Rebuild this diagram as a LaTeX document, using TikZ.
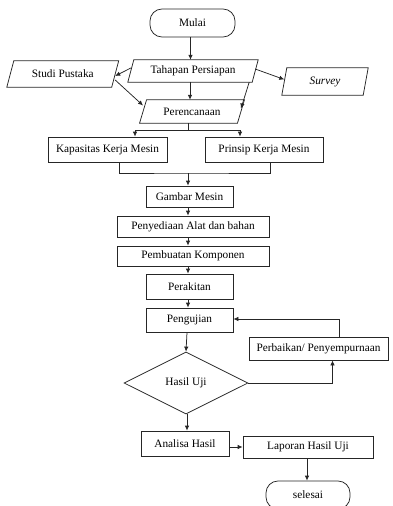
\documentclass[tikz,border=0pt]{standalone}
\usepackage{fontspec}
\setmainfont{Liberation Serif}
\usetikzlibrary{arrows.meta,shapes.geometric}
\newcommand\paral[2]{\draw[ln] ([xshift=#2]#1.north west) -- ([xshift=#2]#1.north east) -- ([xshift=-#2]#1.south east) -- ([xshift=-#2]#1.south west) -- cycle;}
\begin{document}
\begin{tikzpicture}[x=1pt,y=-1pt,
  ln/.style={draw=black!85, line width=0.75pt},
  txt/.style={font=\fontsize{11.3}{13}\selectfont, inner sep=0pt, text=black},
  rbox/.style={txt, ln, rectangle},
  term/.style={txt, ln, rectangle, rounded corners=12pt},
  para/.style={txt, rectangle},
  dia/.style={txt, ln, diamond, aspect=2},
  arr/.style={ln, -{Latex[length=5pt,width=4.5pt]}}
]
\useasboundingbox (0,0) rectangle (392,506);

% nodes
\node[term, minimum width=85pt, minimum height=28pt] (mulai) at (192.5,23) {Mulai};
\node[para, minimum width=124pt, minimum height=22pt] (tp) at (193,71) {Tahapan Persiapan};
\node[para, minimum width=104.5pt, minimum height=26pt] (sp) at (62.75,74) {Studi Pustaka};
\node[para, minimum width=81pt, minimum height=27pt] (sv) at (325,81.5) {\itshape Survey};
\node[para, minimum width=97.5pt, minimum height=23pt] (pr) at (192,111.5) {Perencanaan};
\paral{tp}{3pt}
\paral{sp}{3.5pt}
\paral{sv}{2.5pt}
\paral{pr}{3.5pt}

\node[rbox, minimum width=119pt, minimum height=25pt] (kk) at (107.5,149.5) {Kapasitas Kerja Mesin};
\node[rbox, minimum width=118pt, minimum height=25pt] (pk) at (264,149.5) {Prinsip Kerja Mesin};
\node[rbox, minimum width=87pt, minimum height=21pt] (gm) at (189.5,196.5) {Gambar Mesin};
\node[rbox, minimum width=152pt, minimum height=21pt] (pa) at (193,226.5) {Penyediaan Alat dan bahan};
\node[rbox, minimum width=152pt, minimum height=20pt] (pb) at (193,256) {Pembuatan Komponen};
\node[rbox, minimum width=87pt, minimum height=25pt] (pe) at (189.5,286.5) {Perakitan};
\node[rbox, minimum width=87pt, minimum height=24pt] (pg) at (189.5,320) {Pengujian};
\node[rbox, minimum width=139pt, minimum height=23pt] (pp) at (318.5,348.5) {Perbaikan/ Penyempurnaan};
\node[dia, minimum width=124pt, minimum height=62pt] (hu) at (186,383) {Hasil Uji};
\node[rbox, minimum width=88pt, minimum height=25pt] (ah) at (185,443.5) {Analisa Hasil};
\node[rbox, minimum width=130pt, minimum height=22pt] (lh) at (308,447) {Laporan Hasil Uji};
\node[term, minimum width=84pt, minimum height=28pt] (se) at (308,495) {selesai};

% connectors
\draw[arr] ([xshift=-2pt]mulai.south) -- ([xshift=-2pt]mulai.south |- tp.north);
\draw[arr] ([yshift=3pt]tp.west) -- ([yshift=-2pt]sp.east);
\draw[arr] ([yshift=2pt]tp.east) -- ([yshift=2pt]sv.west);
\draw[arr] ([xshift=-3pt]tp.south) -- ([xshift=-3pt]tp.south |- pr.north);
\draw[arr] ([yshift=-6pt]sp.east) -- ([yshift=6pt]pr.west);
\draw[arr] ([xshift=-6pt]tp.south east) -- ([yshift=3pt]pr.east);

\coordinate (br) at (188,130);
\draw[ln] ([xshift=-4pt]pr.south) -- (br);
\draw[arr] (br) -| ([xshift=27.5pt]kk.north);
\draw[arr] (br) -| ([xshift=-24pt]pk.north);

\coordinate (jn) at (188,173);
\draw[ln] ([xshift=11.5pt]kk.south) |- (jn) -| ([xshift=6pt]pk.south);
\draw[arr] (jn) -- (jn |- gm.north);

\draw[arr] ([xshift=-1.5pt]gm.south) -- ([xshift=-1.5pt]gm.south |- pa.north);
\draw[arr] ([xshift=-5pt]pa.south) -- ([xshift=-5pt]pb.north);
\draw[arr] ([xshift=-5pt]pb.south) -- ([xshift=-5pt]pb.south |- pe.north);
\draw[arr] ([xshift=-1.5pt]pe.south) -- ([xshift=-1.5pt]pg.north);
\draw[arr] ([xshift=-2.5pt]pg.south) -- (hu.north);
\draw[arr] ([xshift=20.5pt]pp.north) |- ([yshift=1pt]pg.east);
\draw[arr] (hu.east) -| ([xshift=14pt]pp.south);
\draw[arr] ([xshift=1pt]hu.south) -- ([xshift=1pt]hu.south |- ah.north);
\draw[arr] (ah.east |- lh.west) -- (lh.west);
\draw[arr] ([xshift=-1pt]lh.south) -- ([xshift=-1pt]lh.south |- se.north);
\end{tikzpicture}
\end{document}
